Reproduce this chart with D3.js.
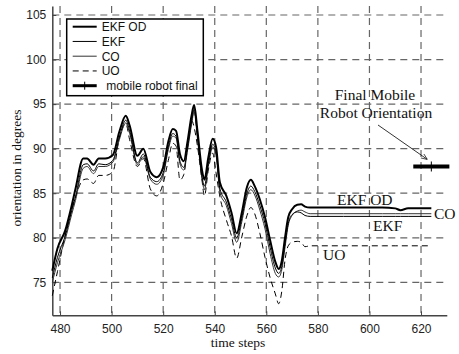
<!DOCTYPE html>
<html>
<head>
<meta charset="utf-8">
<script src="https://cdn.jsdelivr.net/npm/d3@7"></script>
<style>
  body { margin: 0; background: #fff; }
  svg { display: block; }
</style>
</head>
<body>
<script>
const W = 459, H = 354;

// time steps shared by all four estimates
const steps = [477, 479, 482, 484.5, 486, 489, 490.5, 493, 495, 497.5, 500.5, 503, 505.5, 507, 510, 512.3,
  515, 517.5, 520, 522, 523.7, 525, 526.5, 528, 529.5, 531, 532, 533.3, 535, 536, 537.5, 539.2, 540.5,
  542, 544.5, 546.5, 548.5, 550.5, 552.5, 554, 555.5, 557.5, 559.5, 561.5, 563.5, 564.8, 566, 567.3,
  568.5, 570, 572, 573.5, 575, 577, 590, 605, 610, 612, 615, 624];

const ekfOd = [76.3, 78.8, 80.8, 83.6, 85.5, 88.9, 88.9, 88.2, 88.9, 88.9, 89.3, 91.9, 93.7, 92.6, 89.2, 90.0,
  87.4, 86.8, 87.9, 90.8, 92.2, 92.0, 89.4, 88.6, 90.9, 93.7, 94.9, 92.0, 87.7, 86.5, 89.0, 91.1, 90.2,
  86.2, 84.7, 82.8, 80.5, 82.8, 85.7, 86.5, 85.8, 84.3, 82.3, 79.7, 77.3, 76.5, 77.4, 80.1,
  82.3, 83.2, 83.7, 83.75, 83.5, 83.4, 83.4, 83.4, 83.3, 83.1, 83.3, 83.3];

const ekf = [75.5, 77.8, 80.2, 83.0, 84.6, 88.2, 88.3, 87.5, 88.3, 88.2, 88.7, 91.3, 93.2, 92.0, 88.4, 89.4,
  86.8, 86.3, 87.3, 90.2, 91.7, 91.4, 88.6, 87.9, 90.2, 93.0, 94.4, 91.4, 87.0, 85.8, 88.3, 90.5, 89.6,
  85.5, 84.0, 82.1, 80.0, 82.2, 85.0, 85.8, 85.2, 83.6, 81.6, 78.9, 76.6, 76.0, 76.8, 79.4,
  81.6, 82.6, 82.9, 82.8, 82.5, 82.4, 82.4, 82.4, 82.4, 82.4, 82.4, 82.4];

const co = [75.0, 77.2, 79.8, 82.6, 84.2, 87.8, 88.0, 87.2, 88.0, 88.0, 88.5, 91.0, 92.9, 91.7, 88.2, 89.1,
  86.6, 86.0, 87.0, 89.9, 91.4, 91.2, 88.3, 87.6, 89.9, 92.7, 94.1, 91.1, 86.7, 85.4, 88.0, 90.2, 89.3,
  85.1, 83.6, 81.6, 79.5, 81.8, 84.6, 85.4, 84.8, 83.1, 81.0, 78.2, 76.0, 75.6, 76.4, 79.0,
  81.4, 82.5, 83.0, 83.1, 82.9, 82.7, 82.7, 82.7, 82.7, 82.7, 82.7, 82.7];

const uo = [73.5, 76.2, 80.3, 83.2, 84.6, 86.5, 86.6, 86.1, 87.0, 87.0, 87.4, 91.2, 92.8, 91.0, 88.0, 88.9,
  85.5, 84.7, 86.1, 88.7, 90.6, 90.3, 86.5, 87.1, 90.3, 93.2, 92.4, 90.3, 86.6, 84.7, 87.6, 89.5, 87.3,
  84.6, 82.0, 80.2, 77.7, 80.1, 82.5, 83.4, 82.7, 80.5, 77.8, 75.5, 73.7, 72.6, 74.0, 77.6,
  79.1, 79.5, 79.6, 79.5, 79.0, 79.1, 79.1, 79.1, 79.1, 79.1, 79.1, 79.1];

// final mobile robot orientation marker
const finalStep = [617, 631];
const finalCenter = 624;
const finalValue = 88;

const xTicks = [480, 500, 520, 540, 560, 580, 600, 620];
const yTicks = [75, 80, 85, 90, 95, 100, 105];

const seriesNames = ["EKF OD", "EKF", "CO", "UO"];
const style = {
  "EKF OD": { stroke: "#000", width: 2, dash: null },
  "EKF": { stroke: "#000", width: 1, dash: null },
  "CO": { stroke: "#333", width: 1, dash: null },
  "UO": { stroke: "#000", width: 1, dash: "6,4" }
};
const seriesData = { "EKF OD": ekfOd, "EKF": ekf, "CO": co, "UO": uo };

const sans = "'Liberation Sans', Arial, sans-serif";
const serif = "'Liberation Serif', 'Times New Roman', serif";

const svg = d3.select("body").append("svg")
  .attr("width", W).attr("height", H);

const x = d3.scaleLinear().domain([477, 630]).range([52.3, 446.8]);
const y = d3.scaleLinear().domain([71.3, 106]).range([315.3, 6.1]);

// grid
const grid = svg.append("g").attr("stroke", "#666").attr("stroke-width", 1.2)
  .attr("stroke-dasharray", "7,5");
grid.selectAll(".gx").data(xTicks).join("line")
  .attr("x1", d => x(d)).attr("x2", d => x(d))
  .attr("y1", y.range()[1]).attr("y2", y.range()[0]);
grid.selectAll(".gy").data(yTicks).join("line")
  .attr("y1", d => y(d)).attr("y2", d => y(d))
  .attr("x1", x.range()[0]).attr("x2", x.range()[1]);

// axes
const xAxis = svg.append("g")
  .attr("transform", `translate(0,${y.range()[0]})`)
  .call(d3.axisBottom(x).tickValues(xTicks).tickSize(-4).tickSizeOuter(0).tickPadding(9));
const yAxis = svg.append("g")
  .attr("transform", `translate(${x.range()[0]},0)`)
  .call(d3.axisLeft(y).tickValues(yTicks).tickSize(-4).tickSizeOuter(0).tickPadding(6));
[xAxis, yAxis].forEach(a => {
  a.select(".domain").attr("stroke", "#444").attr("stroke-width", 1.5);
  a.selectAll(".tick line").attr("stroke", "#444");
  a.selectAll(".tick text").attr("font-family", sans)
    .attr("font-size", 12).attr("fill", "#222");
});

// curves
const line = d3.line()
  .x((d, i) => x(steps[i]))
  .y(d => y(d))
  .curve(d3.curveMonotoneX);

const plot = svg.append("g").attr("fill", "none");
["UO", "CO", "EKF", "EKF OD"].forEach(name => {
  plot.append("path")
    .datum(seriesData[name])
    .attr("d", line)
    .attr("stroke", style[name].stroke)
    .attr("stroke-width", style[name].width)
    .attr("stroke-dasharray", style[name].dash);
});

// final orientation marker
svg.append("line")
  .attr("x1", x(finalStep[0])).attr("x2", x(finalStep[1]))
  .attr("y1", y(finalValue)).attr("y2", y(finalValue))
  .attr("stroke", "#000").attr("stroke-width", 4);
svg.append("line")
  .attr("x1", x(finalCenter)).attr("x2", x(finalCenter))
  .attr("y1", y(finalValue) - 5).attr("y2", y(finalValue) + 5)
  .attr("stroke", "#000").attr("stroke-width", 1);

// annotations
const ann = svg.append("g").attr("font-family", serif).attr("font-size", 15.5).attr("fill", "#111");
ann.append("text").attr("x", 375).attr("y", 100).attr("text-anchor", "middle").text("Final Mobile");
ann.append("text").attr("x", 376).attr("y", 118).attr("text-anchor", "middle").text("Robot Orientation");

svg.append("defs").append("marker")
  .attr("id", "arr").attr("viewBox", "0 0 10 10").attr("refX", 10).attr("refY", 5)
  .attr("markerWidth", 8).attr("markerHeight", 8).attr("orient", "auto")
  .append("path").attr("d", "M0,1 L10,5 L0,9").attr("fill", "none").attr("stroke", "#000").attr("stroke-width", 1);
svg.append("line")
  .attr("x1", 378).attr("y1", 125).attr("x2", x(622.5)).attr("y2", y(finalValue) - 7)
  .attr("stroke", "#000").attr("stroke-width", 0.8).attr("marker-end", "url(#arr)");

ann.append("text").attr("x", 337).attr("y", 205).text("EKF OD");
ann.append("text").attr("x", 434).attr("y", 219).text("CO");
ann.append("text").attr("x", 373).attr("y", 231).text("EKF");
ann.append("text").attr("x", 323).attr("y", 260).text("UO");

// axis titles
svg.append("text").attr("x", 238).attr("y", 347).attr("text-anchor", "middle")
  .attr("font-family", serif).attr("font-size", 13.5).attr("fill", "#111").text("time steps");
svg.append("text").attr("transform", "translate(21,168) rotate(-90)").attr("text-anchor", "middle")
  .attr("font-family", serif).attr("font-size", 13.5).attr("fill", "#111").text("orientation in degrees");

// legend
const lg = svg.append("g").attr("transform", "translate(66.7,19)");
lg.append("rect").attr("width", 136.6).attr("height", 76.7)
  .attr("fill", "#fff").attr("stroke", "#000").attr("stroke-width", 1.5);
const rows = seriesNames.concat(["mobile robot final"]);
rows.forEach((name, i) => {
  const ry = 7.7 + i * 14.75;
  if (style[name]) {
    lg.append("line").attr("x1", 6).attr("x2", 30).attr("y1", ry).attr("y2", ry)
      .attr("stroke", style[name].stroke).attr("stroke-width", style[name].width)
      .attr("stroke-dasharray", style[name].dash);
  } else {
    lg.append("line").attr("x1", 6).attr("x2", 30).attr("y1", ry).attr("y2", ry)
      .attr("stroke", "#000").attr("stroke-width", 3);
    lg.append("line").attr("x1", 18).attr("x2", 18).attr("y1", ry - 4).attr("y2", ry + 4)
      .attr("stroke", "#000").attr("stroke-width", 1);
  }
  lg.append("text").attr("x", name === "mobile robot final" ? 39.5 : 35).attr("y", ry + 4.3)
    .attr("font-family", sans).attr("font-size", 12)
    .attr("fill", "#111").text(name);
});
</script>
</body>
</html>
